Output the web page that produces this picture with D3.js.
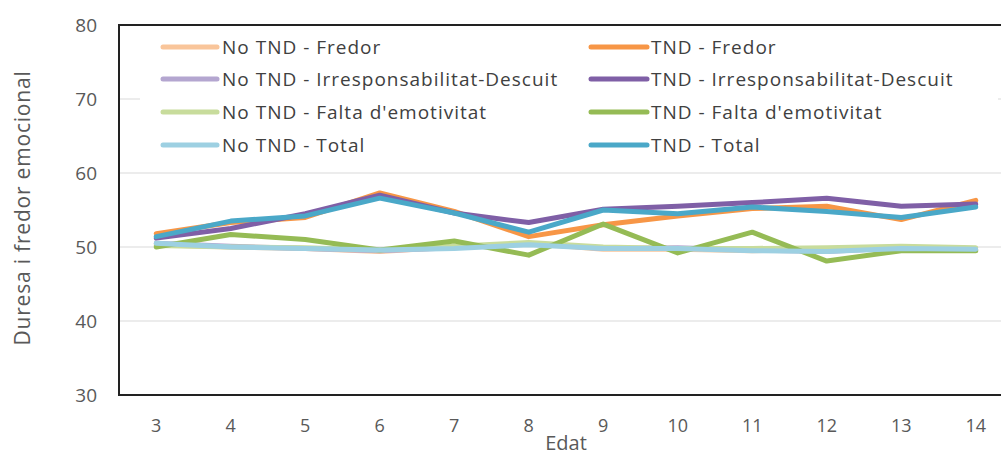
<!DOCTYPE html>
<html>
<head>
<meta charset="utf-8">
<script src="https://cdn.jsdelivr.net/npm/d3@7"></script>
<style>
  html, body { margin: 0; padding: 0; background: #fff; }
  svg { display: block; }
  text { font-family: "Open Sans", "DejaVu Sans", sans-serif; }
</style>
</head>
<body>
<svg id="chart" width="1001" height="456"></svg>
<script>
// Ages (x categories)
const ages = [3, 4, 5, 6, 7, 8, 9, 10, 11, 12, 13, 14];
const yTicks = [30, 40, 50, 60, 70, 80];

// Mean scores per age, one array per group/subscale
const noTndFredor   = [50.3, 50.0, 49.8, 49.4, 50.0, 50.5, 49.7, 49.7, 49.5, 49.6, 49.8, 49.6];
const tndFredor     = [51.8, 53.3, 54.0, 57.3, 54.8, 51.4, 53.0, 54.2, 55.2, 55.5, 53.7, 56.3];
const noTndIrresp   = [50.5, 50.1, 49.8, 49.5, 49.9, 50.5, 49.8, 49.9, 49.6, 49.4, 49.9, 49.7];
const tndIrresp     = [51.2, 52.5, 54.5, 57.0, 54.6, 53.3, 55.1, 55.5, 56.0, 56.6, 55.5, 55.8];
const noTndFalta    = [50.2, 50.0, 49.9, 49.6, 50.1, 50.6, 50.0, 49.8, 49.8, 49.9, 50.1, 49.9];
const tndFalta      = [50.0, 51.7, 51.0, 49.6, 50.8, 48.9, 53.1, 49.2, 52.0, 48.1, 49.5, 49.5];
const noTndTotal    = [50.5, 50.0, 49.8, 49.6, 49.8, 50.3, 49.8, 49.8, 49.5, 49.4, 49.8, 49.7];
const tndTotal      = [51.4, 53.5, 54.2, 56.6, 54.6, 52.0, 55.0, 54.5, 55.4, 54.8, 54.0, 55.4];

const seriesNames = [
  "No TND - Fredor", "TND - Fredor",
  "No TND - Irresponsabilitat-Descuit", "TND - Irresponsabilitat-Descuit",
  "No TND - Falta d'emotivitat", "TND - Falta d'emotivitat",
  "No TND - Total", "TND - Total"
];
const seriesValues = [
  noTndFredor, tndFredor, noTndIrresp, tndIrresp,
  noTndFalta, tndFalta, noTndTotal, tndTotal
];
const seriesColors = [
  "#f9c59a", "#f79646", "#b4a6d0", "#7f5fa6",
  "#c8dc9c", "#95bb55", "#9dd0e2", "#4aa8c8"
];

const svg = d3.select("#chart");
const plotLeft = 119, plotTop = 25, plotBottom = 395;
const step = 74.5;
const plotRight = plotLeft + step * ages.length;

const x = d3.scaleBand().domain(ages).range([plotLeft, plotRight]);
const y = d3.scaleLinear().domain([30, 80]).range([plotBottom, plotTop]);
const cx = d => x(d) + x.bandwidth() / 2;

// Gridlines
svg.append("g")
  .selectAll("line")
  .data(yTicks.filter(t => t > 30 && t < 80))
  .join("line")
  .attr("x1", plotLeft).attr("x2", plotRight)
  .attr("y1", d => y(d)).attr("y2", d => y(d))
  .attr("stroke", "#d9d9d9").attr("stroke-width", 1);

// Legend background (hides gridlines behind it)
svg.append("rect")
  .attr("x", 140).attr("y", 30).attr("width", 858).attr("height", 134)
  .attr("fill", "#fff");

// Series lines
const line = d3.line().x((d, i) => cx(ages[i])).y(d => y(d));
svg.append("g")
  .selectAll("path")
  .data(seriesValues)
  .join("path")
  .attr("d", d => line(d))
  .attr("fill", "none")
  .attr("stroke", (d, i) => seriesColors[i])
  .attr("stroke-width", 5)
  .attr("stroke-linejoin", "round")
  .attr("stroke-linecap", "round");

// Plot frame
svg.append("path")
  .attr("d", `M${plotRight},${plotTop}H${plotLeft}V${plotBottom}H${plotRight}`)
  .attr("fill", "none").attr("stroke", "#222").attr("stroke-width", 2);

// Y axis labels
const yAxis = d3.axisLeft(y).tickValues(yTicks).tickSize(0).tickPadding(22);
const gy = svg.append("g").attr("transform", `translate(${plotLeft},0)`).call(yAxis);
gy.select(".domain").remove();
gy.selectAll("text").attr("fill", "#595959").style("font-size", "19px")
  .style("font-family", "'Open Sans', sans-serif");

// X axis labels
const xAxis = d3.axisBottom(x).tickSize(0).tickPadding(24);
const gx = svg.append("g").attr("transform", `translate(0,${plotBottom})`).call(xAxis);
gx.select(".domain").remove();
gx.selectAll("text").attr("fill", "#595959").style("font-size", "18px")
  .style("font-family", "'Open Sans', sans-serif");

// Axis titles
svg.append("text")
  .attr("x", 566).attr("y", 450)
  .attr("text-anchor", "middle")
  .attr("fill", "#595959").style("font-size", "20px")
  .text("Edat");

svg.append("text")
  .attr("transform", "translate(30,208) rotate(-90)")
  .attr("text-anchor", "middle")
  .attr("fill", "#595959").style("font-size", "21px")
  .style("letter-spacing", "0.8px")
  .text("Duresa i fredor emocional");

// Legend
const legendRows = [47, 79, 112, 145];
const legendCols = [{ x1: 163, x2: 217, tx: 222 }, { x1: 591, x2: 647, tx: 651 }];
const lg = svg.append("g")
  .selectAll("g")
  .data(seriesNames)
  .join("g")
  .attr("transform", (d, i) => `translate(0,${legendRows[Math.floor(i / 2)]})`);
lg.append("line")
  .attr("x1", (d, i) => legendCols[i % 2].x1)
  .attr("x2", (d, i) => legendCols[i % 2].x2)
  .attr("stroke", (d, i) => seriesColors[i])
  .attr("stroke-width", 5)
  .attr("stroke-linecap", "round");
lg.append("text")
  .attr("x", (d, i) => legendCols[i % 2].tx)
  .attr("dy", "0.35em")
  .attr("fill", "#404040")
  .style("font-size", "19px")
  .style("letter-spacing", "1px")
  .text(d => d);
</script>
</body>
</html>
